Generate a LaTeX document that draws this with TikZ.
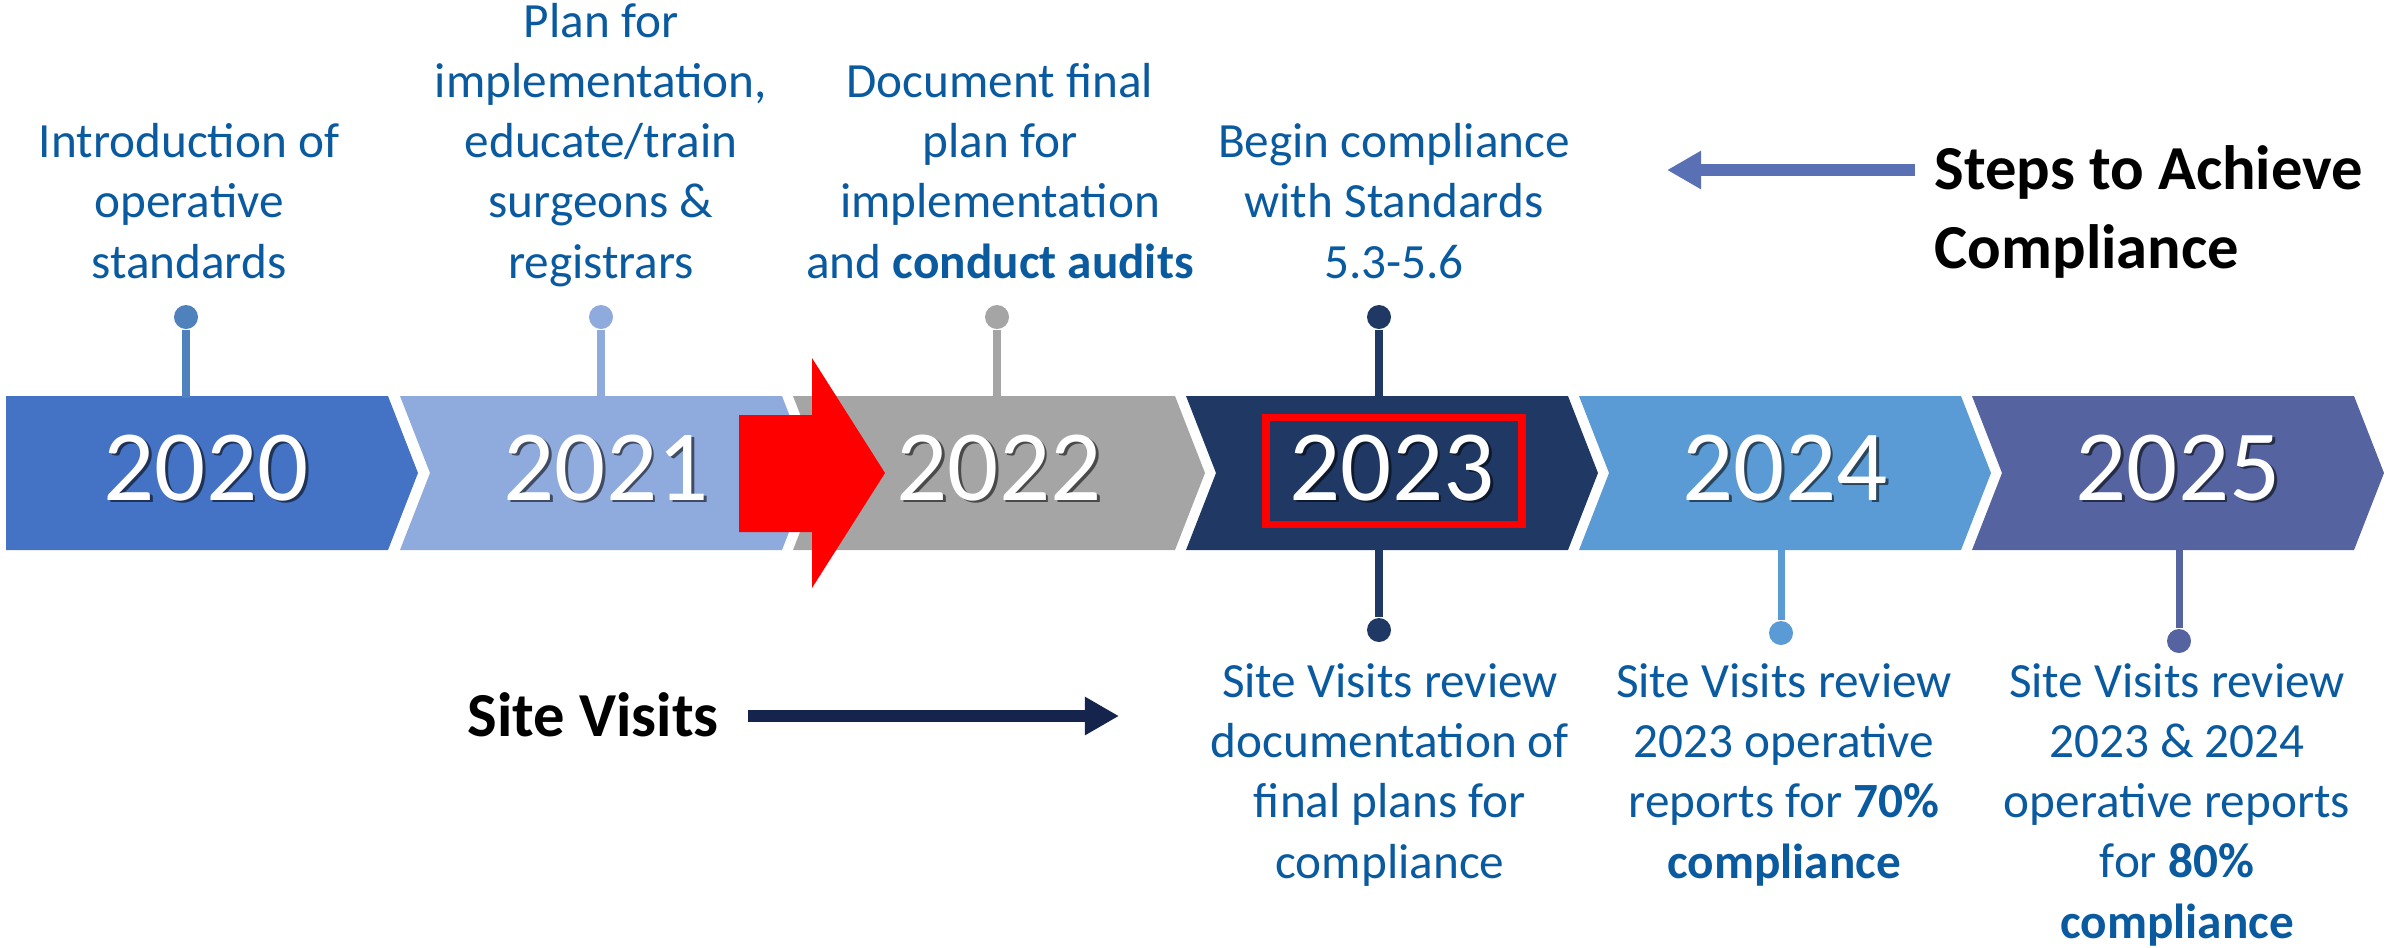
\documentclass[tikz,border=0pt]{standalone}
\usepackage{fontspec}
\setmainfont{Carlito}
\usetikzlibrary{arrows.meta}
\definecolor{c2020}{HTML}{4472C4}
\definecolor{c2021}{HTML}{8FAADC}
\definecolor{c2022}{HTML}{A5A5A5}
\definecolor{c2023}{HTML}{203864}
\definecolor{c2024}{HTML}{5B9BD5}
\definecolor{c2025}{RGB}{85,99,160}
\definecolor{p2020}{RGB}{79,129,189}
\definecolor{txtblue}{RGB}{10,90,160}
\definecolor{stepblue}{RGB}{90,112,180}
\definecolor{visitnavy}{RGB}{20,36,76}
\newcommand{\yrtxt}[2]{\makebox[0pt][l]{\hspace{0.8pt}\raisebox{-0.8pt}{\textcolor{#2}{#1}}}#1}
\tikzset{
  yr/.style={text=white,font=\fontsize{28.7}{34}\selectfont,anchor=base,inner sep=0},
  note/.style={text=txtblue,font=\fontsize{14}{17.1}\selectfont,align=center,anchor=base,inner sep=0},
  lbl/.style={font=\fontsize{17.8}{22.2}\selectfont\bfseries,align=left,anchor=base west,inner sep=0},
  pindot/.style={circle,fill=#1,inner sep=0,minimum size=0.24cm},
  pinline/.style={draw=#1,line width=2pt},
  bigarrow/.style={line width=3.4pt,-{Triangle[length=0.34cm,width=0.36cm]}}
}
\begin{document}
\begin{tikzpicture}[x=0.01cm,y=-0.01cm]
\useasboundingbox (0,0) rectangle (2387,947);
%chevrons
\fill[c2020](6,396)--++(382,0)--++(30,77)--++(-30,77)--++(-382,0)--cycle;
\fill[c2021](400,396)--++(382,0)--++(30,77)--++(-30,77)--++(-382,0)--++(30,-77)--cycle;
\fill[c2022](793,396)--++(382,0)--++(30,77)--++(-30,77)--++(-382,0)--++(30,-77)--cycle;
\fill[c2023](1186,396)--++(382,0)--++(30,77)--++(-30,77)--++(-382,0)--++(30,-77)--cycle;
\fill[c2024](1579,396)--++(382,0)--++(30,77)--++(-30,77)--++(-382,0)--++(30,-77)--cycle;
\fill[c2025](1972,396)--++(382,0)--++(30,77)--++(-30,77)--++(-382,0)--++(30,-77)--cycle;
%years
\node[yr] (y20) at (206,500) {\yrtxt{2020}{c2020!45!black}};
\node[yr] (y21) at (606,500) {\yrtxt{2021}{c2021!45!black}};
\node[yr] (y22) at (999,500) {\yrtxt{2022}{c2022!45!black}};
\node[yr] (y23) at (1392,500) {\yrtxt{2023}{c2023!45!black}};
\node[yr] (y24) at (1785,500) {\yrtxt{2024}{c2024!45!black}};
\node[yr] (y25) at (2178,500) {\yrtxt{2025}{c2025!45!black}};
\draw[red,line width=2pt](1266,417) rectangle (1522,524);
%red arrow
\fill[red](739,415)--(812,415)--(812,358)--(885,473)--(812,588)--(812,532)--(739,532)--cycle;
%pins above
\node[pindot=p2020] (d20) at (186,317) {};
\node[pindot=c2021] (d21) at (601,317) {};
\node[pindot=c2022] (d22) at (997,317) {};
\node[pindot=c2023] (d23) at (1379,317) {};
\coordinate (t20) at (186,398);
\coordinate (t21) at (601,398);
\coordinate (t22) at (997,398);
\coordinate (t23) at (1379,398);
\draw[pinline=p2020] (d20)--(t20);
\draw[pinline=c2021] (d21)--(t21);
\draw[pinline=c2022] (d22)--(t22);
\draw[pinline=c2023] (d23)--(t23);
%pins below
\node[pindot=c2023] (e23) at (1379,630) {};
\node[pindot=c2024] (e24) at (1781,633) {};
\node[pindot=c2025] (e25) at (2179,641) {};
\coordinate (b23) at (1379,548);
\coordinate (b24) at (1781,548);
\coordinate (b25) at (2179,548);
\draw[pinline=c2023] (b23)--(e23);
\draw[pinline=c2024] (b24)--(e24);
\draw[pinline=c2025] (b25)--(e25);
%texts above
\node[note] (n20) at (189,278) {Introduction of\\operative\\standards};
\node[note] (n21) at (601,278) {Plan for\\implementation,\\educate/train\\surgeons \&\\registrars};
\node[note] (n22) at (1000,278) {Document final\\plan for\\implementation\\and \textbf{conduct audits}};
\node[note] (n23) at (1394,278) {Begin compliance\\with Standards\\5.3-5.6};
%texts below
\node[note] (s23) at (1390,878) {Site Visits review\\documentation of\\final plans for\\compliance};
\node[note] (s24) at (1784,878) {Site Visits review\\2023 operative\\reports for \textbf{70\%}\\\textbf{compliance}};
\node[note] (s25) at (2177,938) {Site Visits review\\2023 \& 2024\\operative reports\\for \textbf{80\%}\\\textbf{compliance}};
%labels and arrows
\node[lbl] (steps) at (1934,268) {Steps to Achieve\\Compliance};
\node[lbl] (site) at (467,736) {Site Visits};
\coordinate (sa1) at (1915,170);
\coordinate (sa2) at (1667,170);
\draw[bigarrow,stepblue] (sa1)--(sa2);
\coordinate (va1) at (748,716);
\coordinate (va2) at (1119,716);
\draw[bigarrow,visitnavy] (va1)--(va2);
\end{tikzpicture}
\end{document}
